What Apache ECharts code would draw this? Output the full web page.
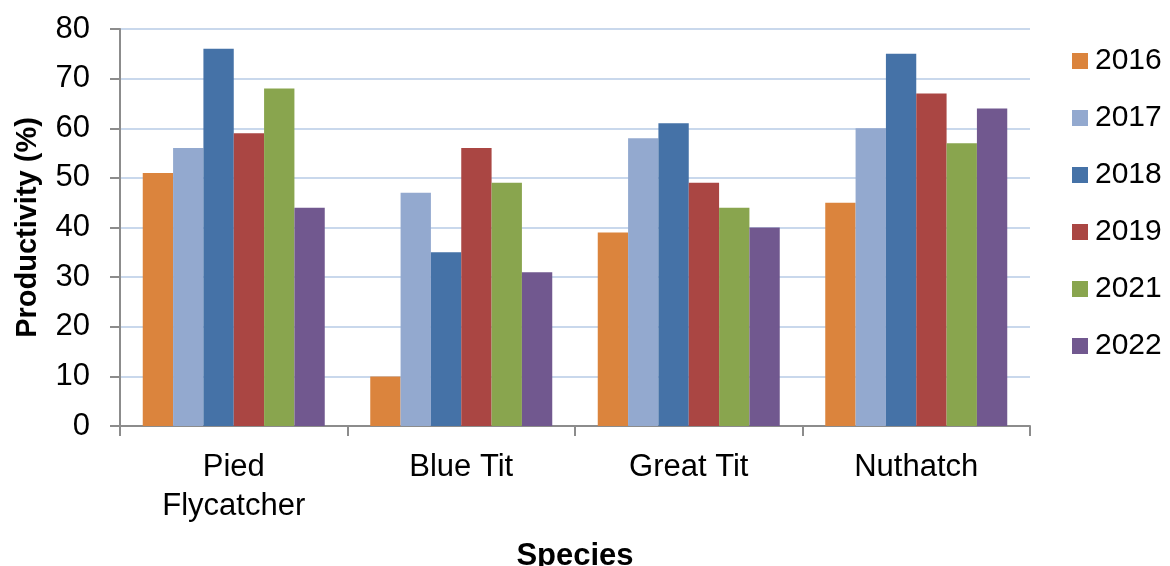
<!DOCTYPE html>
<html><head><meta charset="utf-8">
<script src="https://cdn.jsdelivr.net/npm/echarts@6/dist/echarts.min.js"></script>
<style>html,body{margin:0;padding:0;background:#fff}#c{width:1170px;height:566px}</style>
</head><body><div id="c"></div>
<script>
const categories = ['Pied\nFlycatcher', 'Blue Tit', 'Great Tit', 'Nuthatch'];
const years = ['2016', '2017', '2018', '2019', '2021', '2022'];
const v2016 = [51, 10, 39, 45];
const v2017 = [56, 47, 58, 60];
const v2018 = [76, 35, 61, 75];
const v2019 = [59, 56, 49, 67];
const v2021 = [68, 49, 44, 57];
const v2022 = [44, 31, 40, 64];
const seriesValues = [v2016, v2017, v2018, v2019, v2021, v2022];
const colors = ['#DB843D', '#93A9CF', '#4572A7', '#AA4643', '#89A54E', '#71588F'];
const font = 'Liberation Sans, Arial, sans-serif';
const chart = echarts.init(document.getElementById('c'));
chart.setOption({
  animation: false,
  color: colors,
  textStyle: {fontFamily: font},
  grid: {left: 120, right: 140, top: 29, bottom: 140, containLabel: false, outerBoundsMode: 'none'},
  legend: {
    orient: 'vertical', left: 1067, top: 41, itemWidth: 16, itemHeight: 16, itemGap: 27,
    icon: 'rect',
    textStyle: {fontSize: 30, color: '#000', fontFamily: font, padding: [0, 0, 0, 2]},
    data: years
  },
  xAxis: {
    type: 'category', data: categories,
    name: 'Species', nameLocation: 'middle', nameGap: 115,
    nameTextStyle: {fontSize: 31, fontWeight: 'bold', color: '#000', fontFamily: font},
    axisLine: {lineStyle: {color: '#8c8c8c', width: 2}},
    axisTick: {show: true, length: 10, lineStyle: {color: '#8c8c8c', width: 2}},
    axisLabel: {fontSize: 31, color: '#000', lineHeight: 39, margin: 22, fontFamily: font}
  },
  yAxis: {
    type: 'value', min: 0, max: 80, interval: 10,
    name: 'Productivity (%)', nameLocation: 'middle', nameGap: 78,
    nameTextStyle: {fontSize: 29, fontWeight: 'bold', color: '#000', fontFamily: font},
    axisLine: {show: true, lineStyle: {color: '#8c8c8c', width: 2}},
    axisTick: {show: true, length: 10, lineStyle: {color: '#8c8c8c', width: 2}},
    axisLabel: {fontSize: 31, color: '#000', margin: 30, fontFamily: font},
    splitLine: {lineStyle: {color: '#C9D8EC', width: 2}}
  },
  series: years.map((y, i) => ({
    name: y, type: 'bar', data: seriesValues[i],
    barGap: '0%', barCategoryGap: '20%',
    itemStyle: {color: colors[i]}
  }))
});
</script></body></html>
